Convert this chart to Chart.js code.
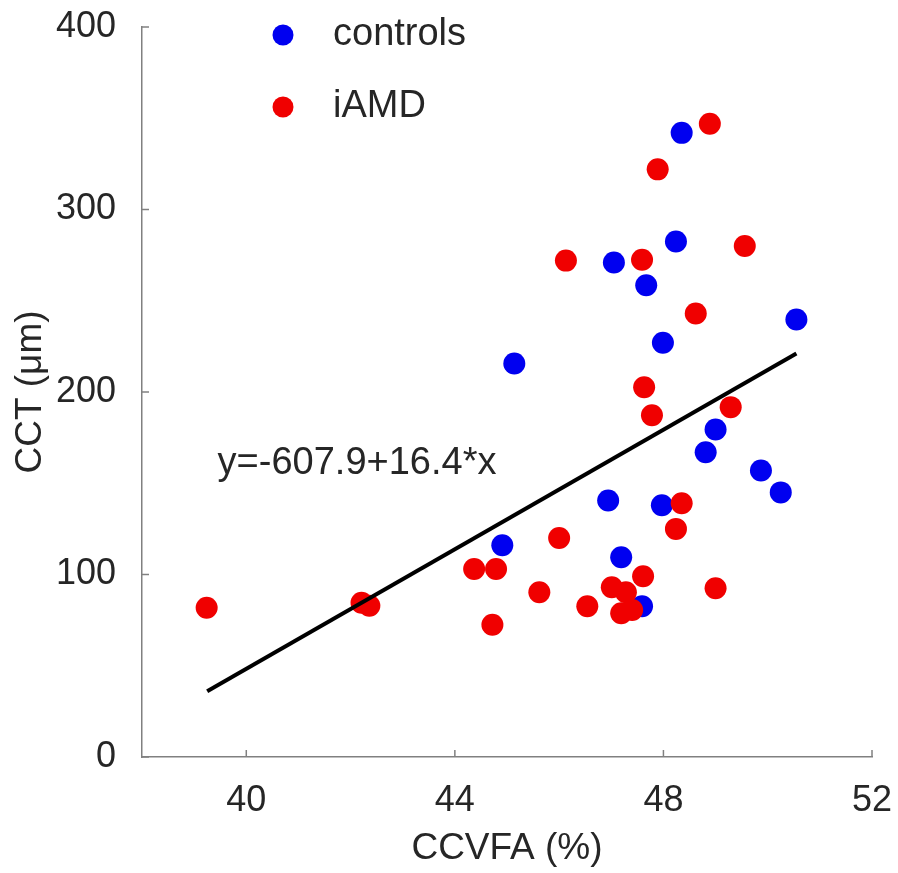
<!DOCTYPE html>
<html>
<head>
<meta charset="utf-8">
<script src="https://cdn.jsdelivr.net/npm/chart.js@4.4.0/dist/chart.umd.min.js"></script>
<style>
  body { margin: 0; background: #fff; }
  #wrap { width: 898px; height: 873px; }
</style>
</head>
<body>
<div id="wrap"><canvas id="myChart"></canvas></div>
<script>
// values
const controlsX = [48.35, 48.24, 47.05, 47.67, 50.55, 47.99, 45.14, 49.0, 48.81, 49.87, 50.25, 46.94, 47.97, 44.91, 47.19, 47.59]
const controlsY = [342, 282.5, 271, 258.5, 239.7, 227, 215.6, 179.5, 167, 157, 145, 140.6, 137.9, 116, 109.4, 82.6]

const amdX = [48.89, 47.89, 49.56, 46.13, 47.59, 48.62, 47.63, 49.29, 47.78, 48.35, 48.24, 46.0, 44.37, 44.79, 47.61, 47.01, 49.0, 45.62, 47.28, 42.21, 42.36, 46.54, 39.24, 47.40, 47.19, 44.72]
const amdY = [347, 322, 280, 272, 272.5, 243, 202.6, 191.7, 187.3, 139, 125, 120, 103, 103, 99, 93, 92.5, 90.3, 90.3, 84.5, 82.9, 82.6, 81.8, 80.5, 78.8, 72.5]

// regression line end points
const fitX = [39.25, 50.55]
const fitY = [36.0, 221.1]
const fitLabel = 'y=-607.9+16.4*x'

const xTicks = [40, 44, 48, 52]
const yTicks = [0, 100, 200, 300, 400]

const font = '"Liberation Sans", Arial, sans-serif'
const textColor = '#262626'
const axisColor = '#808080'

const toPts = (xs, ys) => xs.map((x, i) => ({x: x, y: ys[i]}))

// small ticks pointing into the plot, the legend and the equation text
const extras = {
  id: 'extras',
  afterDraw(chart) {
    const c = chart.ctx, a = chart.chartArea
    const sx = chart.scales.x, sy = chart.scales.y
    c.save()
    c.strokeStyle = axisColor
    c.lineWidth = 1.5
    xTicks.forEach(v => {
      const p = sx.getPixelForValue(v)
      c.beginPath(); c.moveTo(p, a.bottom); c.lineTo(p, a.bottom - 7); c.stroke()
    })
    yTicks.forEach(v => {
      const p = sy.getPixelForValue(v)
      c.beginPath(); c.moveTo(a.left, p); c.lineTo(a.left + 7, p); c.stroke()
    })

    // legend
    c.font = '38px ' + font
    c.textBaseline = 'middle'
    c.textAlign = 'left'
    chart.data.datasets.slice(0, 2).forEach((ds, i) => {
      const y = 35 + i * 72
      c.fillStyle = ds.backgroundColor
      c.beginPath(); c.arc(283, y, 10.5, 0, Math.PI * 2); c.fill()
      c.fillStyle = textColor
      c.fillText(ds.label, 333, y)
    })

    // equation
    c.fillStyle = textColor
    c.fillText(fitLabel, sx.getPixelForValue(39.45), sy.getPixelForValue(161))
    c.restore()
  }
}

const ctx = document.getElementById('myChart')
const myChart = new Chart(ctx, {
  type: 'scatter',
  data: {
    datasets: [{
      label: 'controls',
      data: toPts(controlsX, controlsY),
      backgroundColor: '#0000f0',
      borderWidth: 0,
      pointRadius: 11,
      order: 2
    }, {
      label: 'iAMD',
      data: toPts(amdX, amdY),
      backgroundColor: '#f00000',
      borderWidth: 0,
      pointRadius: 11,
      order: 1
    }, {
      type: 'line',
      label: 'fit',
      data: toPts(fitX, fitY),
      borderColor: '#000',
      borderWidth: 4,
      pointRadius: 0,
      order: 0
    }]
  },
  options: {
    responsive: true,
    maintainAspectRatio: false,
    animation: false,
    layout: { padding: { top: 27, right: 26, left: 0, bottom: 0 } },
    plugins: { legend: { display: false }, tooltip: { enabled: false } },
    scales: {
      x: {
        type: 'linear',
        min: 38,
        max: 52,
        afterBuildTicks: s => { s.ticks = xTicks.map(v => ({value: v})) },
        afterFit: s => { s.height = 116; s.paddingLeft = 0; s.paddingRight = 0 },
        grid: { display: false },
        border: { color: axisColor, width: 1.5 },
        ticks: { color: textColor, font: { family: font, size: 36 }, padding: 14 },
        title: { display: true, text: 'CCVFA (%)', color: textColor, font: { family: font, size: 37 }, padding: { top: 0, bottom: 2 } }
      },
      y: {
        min: 0,
        max: 400,
        afterBuildTicks: s => { s.ticks = yTicks.map(v => ({value: v})) },
        afterFit: s => { s.width = 142; s.paddingTop = 0; s.paddingBottom = 0 },
        grid: { display: false },
        border: { color: axisColor, width: 1.5 },
        ticks: { color: textColor, font: { family: font, size: 36 }, padding: 18 },
        title: { display: true, text: 'CCT (\u03bcm)', color: textColor, font: { family: font, size: 37 }, padding: { top: 9, bottom: 0 } }
      }
    }
  },
  plugins: [extras]
})
</script>
</body>
</html>
